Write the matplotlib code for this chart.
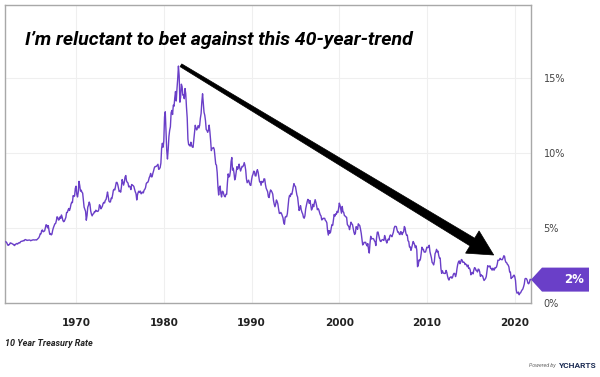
import numpy as np
import matplotlib.pyplot as plt
import matplotlib.patches as mpatches
from matplotlib.transforms import IdentityTransform

# 10 year treasury rate, monthly, Jan 1962 onwards (%)
rates_1960s = [
    4.08, 4.04, 3.93, 3.84, 3.87, 3.91, 4.01, 3.98, 3.98, 3.93, 3.92, 3.86,
    3.83, 3.92, 3.93, 3.97, 3.93, 3.99, 4.02, 4.00, 4.08, 4.11, 4.12, 4.13,
    4.17, 4.15, 4.22, 4.23, 4.20, 4.17, 4.19, 4.19, 4.20, 4.19, 4.15, 4.18,
    4.19, 4.21, 4.21, 4.20, 4.21, 4.21, 4.20, 4.25, 4.29, 4.35, 4.45, 4.62,
    4.61, 4.83, 4.87, 4.75, 4.78, 4.81, 5.02, 5.22, 5.18, 5.01, 5.16, 4.84,
    4.58, 4.63, 4.54, 4.59, 4.85, 5.02, 5.16, 5.28, 5.30, 5.48, 5.75, 5.70,
    5.53, 5.56, 5.74, 5.64, 5.87, 5.72, 5.50, 5.42, 5.46, 5.58, 5.70, 6.03,
    6.04, 6.19, 6.30, 6.17, 6.32, 6.57, 6.72, 6.69, 7.16, 7.10, 7.14, 7.65,
]
rates_1970s = [
    7.79, 7.24, 7.07, 7.39, 8.11, 7.84, 7.46, 7.53, 7.39, 7.33, 6.84, 6.39,
    6.24, 6.11, 5.52, 5.83, 6.39, 6.52, 6.73, 6.58, 6.14, 5.93, 5.81, 5.93,
    5.95, 6.08, 6.07, 6.19, 6.13, 6.11, 6.11, 6.21, 6.55, 6.48, 6.28, 6.36,
    6.46, 6.64, 6.71, 6.67, 6.85, 6.90, 7.13, 7.40, 7.09, 6.79, 6.73, 6.74,
    6.99, 6.96, 7.21, 7.51, 7.58, 7.54, 7.81, 8.04, 8.04, 7.90, 7.68, 7.43,
    7.50, 7.39, 7.73, 8.23, 8.06, 7.86, 8.06, 8.40, 8.50, 8.14, 8.05, 8.00,
    7.74, 7.79, 7.73, 7.56, 7.90, 7.86, 7.83, 7.77, 7.59, 7.41, 7.29, 6.87,
    7.21, 7.39, 7.46, 7.37, 7.46, 7.28, 7.33, 7.40, 7.34, 7.52, 7.58, 7.69,
    7.96, 8.03, 8.04, 8.15, 8.35, 8.46, 8.64, 8.41, 8.42, 8.64, 8.81, 9.01,
    9.10, 9.10, 9.12, 9.18, 9.25, 8.91, 8.95, 9.03, 9.33, 10.30, 10.65, 10.39,
]
rates_1980s = [
    10.80, 12.41, 12.75, 11.47, 10.18, 9.60, 10.25, 11.10, 11.51, 11.75, 12.68, 12.84,
    12.57, 13.19, 13.12, 13.68, 14.10, 13.47, 14.28, 14.94, 15.80, 15.15, 13.39, 13.72,
    14.59, 14.43, 13.86, 13.87, 13.62, 14.30, 13.95, 13.06, 12.34, 10.91, 10.55, 10.54,
    10.46, 10.72, 10.51, 10.40, 10.38, 10.85, 11.38, 11.85, 11.65, 11.54, 11.69, 11.83,
    11.67, 11.84, 12.32, 12.63, 13.41, 13.95, 13.36, 12.72, 12.52, 12.16, 11.57, 11.50,
    11.38, 11.51, 11.86, 11.43, 10.85, 10.16, 10.31, 10.33, 10.37, 10.24, 9.78, 9.26,
    9.19, 8.70, 7.78, 7.20, 7.71, 7.80, 7.30, 7.07, 7.45, 7.43, 7.25, 7.11,
    7.08, 7.25, 7.25, 8.02, 8.61, 8.40, 8.45, 8.76, 9.42, 9.70, 8.86, 8.99,
    8.67, 8.21, 8.37, 8.72, 9.09, 8.92, 9.06, 9.26, 8.98, 8.80, 8.96, 9.11,
    9.09, 9.17, 9.36, 9.18, 8.86, 8.28, 8.02, 8.11, 8.19, 8.01, 7.87, 7.84,
]
rates_1990s = [
    8.21, 8.47, 8.59, 8.79, 8.76, 8.48, 8.47, 8.75, 8.89, 8.72, 8.39, 8.08,
    8.09, 7.85, 8.11, 8.04, 8.07, 8.28, 8.27, 7.90, 7.65, 7.53, 7.42, 7.09,
    7.03, 7.34, 7.54, 7.48, 7.39, 7.26, 6.84, 6.59, 6.42, 6.59, 6.87, 6.77,
    6.60, 6.26, 5.98, 5.97, 6.04, 5.96, 5.81, 5.68, 5.36, 5.25, 5.72, 5.77,
    5.75, 5.97, 6.48, 6.97, 7.18, 7.10, 7.30, 7.24, 7.46, 7.74, 7.96, 7.81,
    7.78, 7.47, 7.20, 7.06, 6.63, 6.17, 6.28, 6.49, 6.20, 6.04, 5.93, 5.71,
    5.65, 5.81, 6.27, 6.51, 6.74, 6.91, 6.87, 6.64, 6.83, 6.53, 6.20, 6.30,
    6.58, 6.42, 6.69, 6.89, 6.71, 6.49, 6.22, 6.30, 6.21, 6.03, 5.88, 5.81,
    5.54, 5.57, 5.65, 5.64, 5.65, 5.50, 5.46, 5.34, 4.81, 4.53, 4.83, 4.65,
    4.72, 5.00, 5.23, 5.18, 5.54, 5.90, 5.79, 5.94, 5.92, 6.11, 6.03, 6.28,
]
rates_2000s = [
    6.66, 6.52, 6.26, 5.99, 6.44, 6.10, 6.05, 5.83, 5.80, 5.74, 5.72, 5.24,
    5.16, 5.10, 4.89, 5.14, 5.39, 5.28, 5.24, 4.97, 4.73, 4.57, 4.65, 5.09,
    5.04, 4.91, 5.28, 5.21, 5.16, 4.93, 4.65, 4.26, 3.87, 3.94, 4.05, 4.03,
    4.05, 3.90, 3.81, 3.96, 3.57, 3.33, 3.98, 4.45, 4.27, 4.29, 4.30, 4.27,
    4.15, 4.08, 3.83, 4.35, 4.72, 4.73, 4.50, 4.28, 4.13, 4.10, 4.19, 4.23,
    4.22, 4.17, 4.50, 4.34, 4.14, 4.00, 4.18, 4.26, 4.20, 4.46, 4.54, 4.47,
    4.42, 4.57, 4.72, 4.99, 5.11, 5.11, 5.09, 4.88, 4.72, 4.73, 4.60, 4.56,
    4.76, 4.72, 4.56, 4.69, 4.75, 5.10, 5.00, 4.67, 4.52, 4.53, 4.15, 4.10,
    3.74, 3.74, 3.51, 3.68, 3.88, 4.10, 4.01, 3.89, 3.69, 3.81, 3.53, 2.42,
    2.52, 2.87, 2.82, 2.93, 3.29, 3.72, 3.56, 3.59, 3.40, 3.39, 3.40, 3.59,
]
rates_2010s = [
    3.73, 3.69, 3.73, 3.85, 3.42, 3.20, 3.01, 2.70, 2.65, 2.54, 2.76, 3.29,
    3.39, 3.58, 3.41, 3.46, 3.17, 3.00, 3.00, 2.30, 1.98, 2.15, 2.01, 1.98,
    1.97, 1.97, 2.17, 2.05, 1.80, 1.62, 1.53, 1.68, 1.72, 1.75, 1.65, 1.72,
    1.91, 1.98, 1.96, 1.76, 1.93, 2.30, 2.58, 2.74, 2.81, 2.62, 2.72, 2.90,
    2.86, 2.71, 2.72, 2.71, 2.56, 2.60, 2.54, 2.42, 2.53, 2.30, 2.33, 2.21,
    1.88, 1.98, 2.04, 1.94, 2.20, 2.36, 2.32, 2.17, 2.17, 2.07, 2.26, 2.24,
    2.09, 1.78, 1.89, 1.81, 1.81, 1.64, 1.50, 1.56, 1.63, 1.76, 2.14, 2.49,
    2.43, 2.42, 2.48, 2.30, 2.30, 2.19, 2.32, 2.21, 2.20, 2.36, 2.35, 2.40,
    2.58, 2.86, 2.84, 2.87, 2.98, 2.91, 2.89, 2.89, 3.00, 3.15, 3.12, 2.83,
    2.71, 2.68, 2.57, 2.53, 2.40, 2.07, 2.06, 1.63, 1.70, 1.71, 1.81, 1.86,
]
rates_2020s = [
    1.76, 1.50, 0.87, 0.66, 0.67, 0.73, 0.55, 0.65, 0.68, 0.79, 0.87, 0.93,
    1.08, 1.26, 1.61, 1.64, 1.62, 1.52, 1.32, 1.28, 1.37, 1.58, 1.56,
]

rates = np.array(rates_1960s + rates_1970s + rates_1980s + rates_1990s
                 + rates_2000s + rates_2010s + rates_2020s)
years = 1962 + np.arange(len(rates)) / 12.0

x_ticks = [1970, 1980, 1990, 2000, 2010, 2020]
y_ticks = [0, 5, 10, 15]
latest_label = '2%'
title = 'I\u2019m reluctant to bet against this 40-year-trend'
series_name = '10 Year Treasury Rate'

# arrow: from the 1981 peak down to 2017
arrow_from = (1981.95, 15.85)
arrow_to = (2017.6, 3.2)

purple = '#6a3fc8'

fig = plt.figure(figsize=(6, 3.77), dpi=100)
ax = fig.add_axes([5/600, 74/377, 526/600, 298/377])

ax.plot(years, rates, color=purple, lw=1.0, zorder=3)
ax.set_xlim(1961.9, 2021.85)
ax.set_ylim(0, 19.87)

ax.set_xticks(x_ticks)
ax.set_xticklabels([str(t) for t in x_ticks], fontweight='bold', fontsize=7.5, color='#222')
ax.set_yticks(y_ticks)
ax.set_yticklabels(['%d%%' % t for t in y_ticks], fontsize=7, color='#444')
ax.yaxis.tick_right()
ax.tick_params(axis='x', length=0, pad=11)
ax.tick_params(axis='y', length=0, pad=9)
ax.grid(True, color='#efefef', lw=0.8, zorder=0)
for s in ax.spines.values():
    s.set_color('#a8a8a8')
    s.set_linewidth(1.0)

# tapered arrow drawn in pixel space
p0 = ax.transData.transform(arrow_from)
p1 = ax.transData.transform(arrow_to)
d = p1 - p0
u = d / np.hypot(*d)
n = np.array([-u[1], u[0]])
base = p1 - u * 25
pts = [p0 + n * 1.6, base + n * 4.5, base + n * 13, p1,
       base - n * 13, base - n * 4.5, p0 - n * 1.6]
ax.add_patch(mpatches.Polygon(pts, closed=True, facecolor='black', edgecolor='black',
                              lw=0.5, transform=IdentityTransform(), clip_on=False, zorder=5))

# latest value flag on the right
cy = ax.transData.transform((years[-1], rates[-1]))[1]
x0 = ax.bbox.x1
flag = [(x0, cy), (x0 + 11, cy + 12), (x0 + 58, cy + 12), (x0 + 58, cy - 12), (x0 + 11, cy - 12)]
fig.patches.append(mpatches.Polygon(flag, closed=True, facecolor=purple, edgecolor='none',
                                    transform=IdentityTransform(), figure=fig))
fig.text((x0 + 53) / 600, cy / 377, latest_label, color='white', fontsize=8.5,
         fontweight='bold', ha='right', va='center')

fig.text(25/600, 1 - 40/377, title, fontsize=14, fontweight='bold', style='italic',
         family=['Roboto', 'DejaVu Sans'], color='black', va='center')
fig.text(5/600, 1 - 343/377, series_name, fontsize=6.5, fontweight='bold', style='italic',
         family=['Roboto', 'DejaVu Sans'], color='#222', va='center')
fig.text(556/600, 1 - 365/377, 'Powered by', fontsize=3.8, style='italic', color='#666',
         family=['Roboto', 'DejaVu Sans'], ha='right', va='center')
fig.text(559/600, 1 - 365/377, 'YCHARTS', fontsize=6, fontweight='bold', color='#1e2e55',
         family=['Roboto', 'DejaVu Sans'], ha='left', va='center')

fig.savefig('out.png', dpi=100)
